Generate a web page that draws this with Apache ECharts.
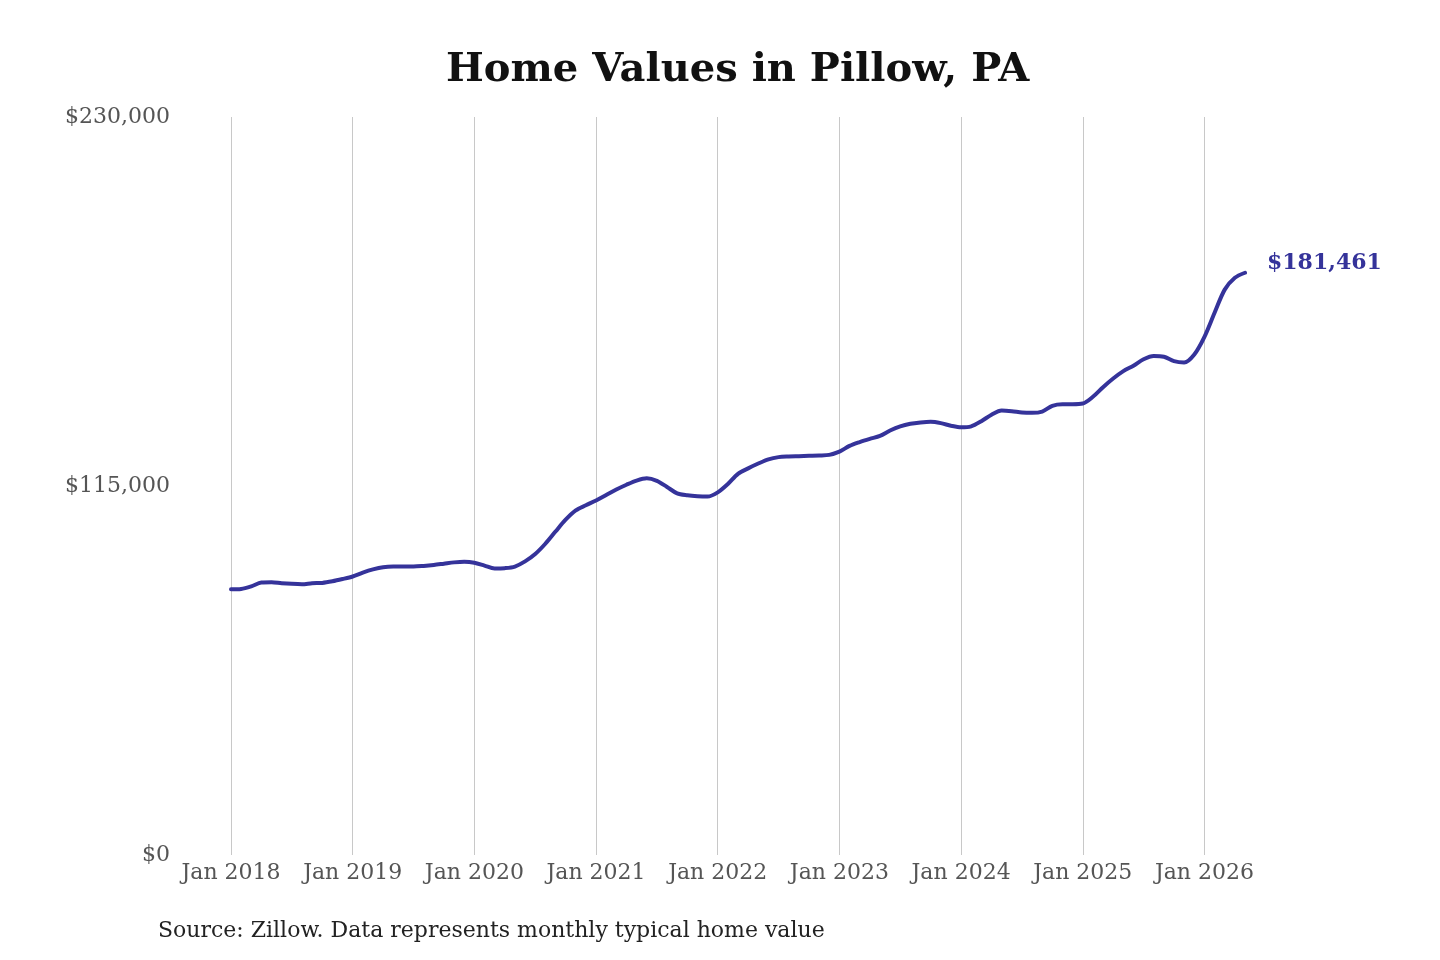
<!DOCTYPE html>
<html>
<head>
<meta charset="utf-8">
<style>
  html, body { margin: 0; padding: 0; background: #fff; }
  #chart { width: 1440px; height: 960px; }
</style>
<script src="https://cdn.jsdelivr.net/npm/echarts@6/dist/echarts.min.js"></script>
</head>
<body>
<div id="chart"></div>
<script>
const monthNames = ['Jan','Feb','Mar','Apr','May','Jun','Jul','Aug','Sep','Oct','Nov','Dec'];
const startYear = 2018;
const homeValues = [
  82800, 82900, 83700, 84900, 85000, 84700, 84500, 84400, 84700, 84800, 85300, 86000,
  86800, 88000, 89000, 89700, 89900, 89900, 89900, 90100, 90400, 90800, 91200, 91400,
  91100, 90200, 89300, 89400, 89900, 91500, 93800, 97000, 100800, 104500, 107400, 109000,
  110500, 112200, 113900, 115400, 116700, 117400, 116600, 114700, 112700, 112100, 111800, 111700,
  113000, 115600, 118800, 120500, 122000, 123300, 124000, 124200, 124300, 124400, 124500, 124700,
  125700, 127500, 128700, 129700, 130600, 132300, 133600, 134400, 134800, 135000, 134600, 133800,
  133300, 133600, 135200, 137200, 138500, 138300, 137900, 137800, 138200, 140000, 140500, 140500,
  140700, 142800, 145800, 148500, 150800, 152500, 154500, 155500, 155300, 153900, 153500, 156000,
  161500, 169000, 176200, 179900, 181461
];
const yTicks = [0, 115000, 230000];
const titleText = 'Home Values in Pillow, PA';
const sourceText = 'Source: Zillow. Data represents monthly typical home value';

const categories = homeValues.map((v, i) =>
  monthNames[i % 12] + ' ' + (startYear + Math.floor(i / 12)));

const money = v => '$' + Number(v).toLocaleString('en-US');

const chart = echarts.init(document.getElementById('chart'));
chart.setOption({
  backgroundColor: '#ffffff',
  animation: false,
  title: {
    text: titleText,
    left: 441,
    top: 46,
    textStyle: { fontFamily: 'DejaVu Serif', fontWeight: 'bold', fontSize: 40, color: '#111' }
  },
  graphic: [{
    type: 'text',
    left: 158,
    top: 920,
    style: { text: sourceText, font: '22px "DejaVu Serif"', fill: '#222' }
  }],
  grid: { left: 231, right: 195, top: 117, bottom: 105, containLabel: false },
  xAxis: {
    type: 'category',
    data: categories,
    boundaryGap: false,
    axisLine: { show: false },
    axisTick: { show: false },
    axisLabel: {
      interval: i => i % 12 === 0,
      margin: 7,
      fontFamily: 'DejaVu Serif',
      fontSize: 22,
      color: '#555'
    },
    splitLine: {
      show: true,
      interval: i => i % 12 === 0,
      lineStyle: { color: '#c8c8c8', width: 1 }
    }
  },
  yAxis: {
    type: 'value',
    min: yTicks[0],
    max: yTicks[yTicks.length - 1],
    interval: yTicks[1] - yTicks[0],
    axisLine: { show: false },
    axisTick: { show: false },
    splitLine: { show: false },
    axisLabel: {
      margin: 61,
      fontFamily: 'DejaVu Serif',
      fontSize: 22,
      color: '#555',
      formatter: v => money(v)
    }
  },
  series: [{
    type: 'line',
    data: homeValues,
    smooth: 0.3,
    showSymbol: false,
    symbol: 'none',
    lineStyle: { color: '#35339a', width: 4, cap: 'round' },
    itemStyle: { color: '#35339a' },
    endLabel: {
      show: true,
      distance: 22,
      offset: [0, -9],
      formatter: p => money(p.value),
      fontFamily: 'DejaVu Serif',
      fontWeight: 'bold',
      fontSize: 22,
      color: '#35339a'
    }
  }]
});
</script>
</body>
</html>
